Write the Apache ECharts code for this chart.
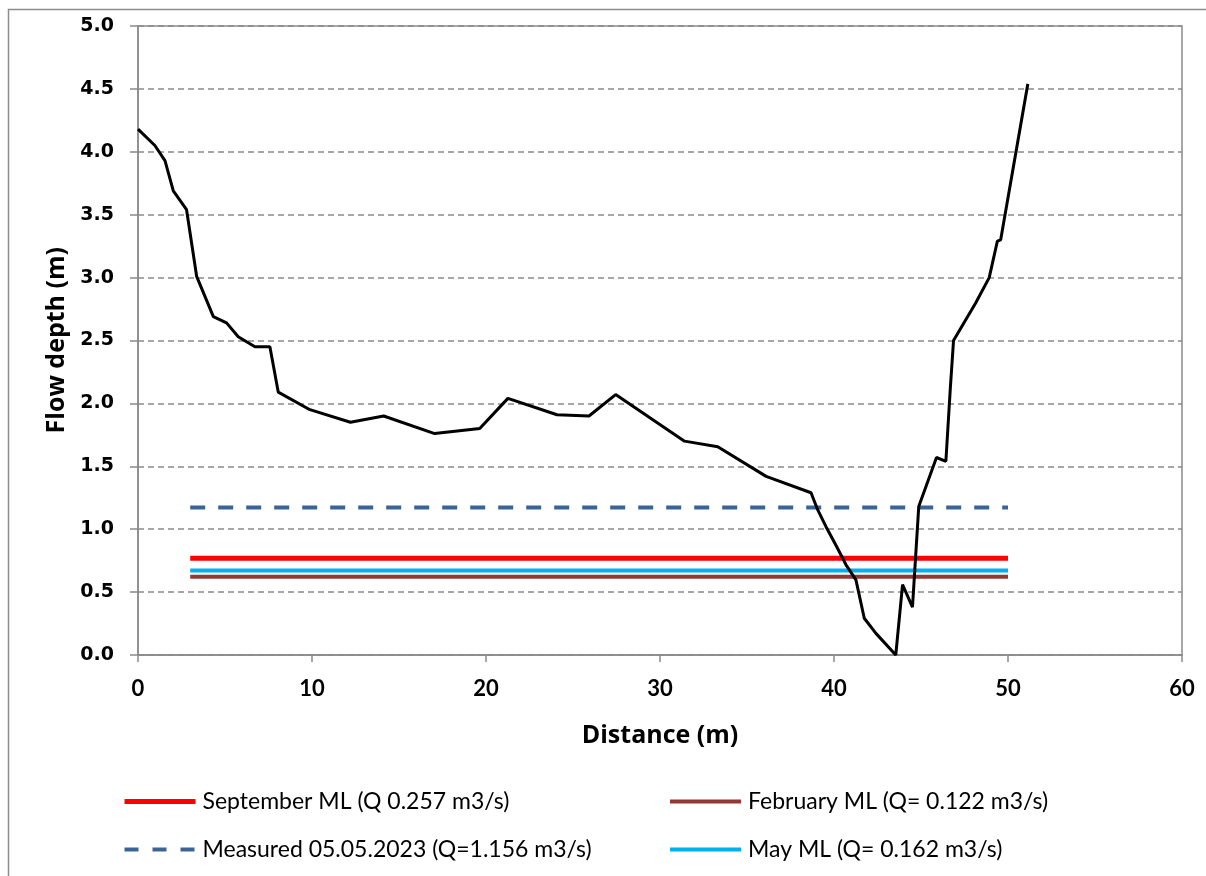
<!DOCTYPE html>
<html>
<head>
<meta charset="utf-8">
<script src="https://cdn.jsdelivr.net/npm/echarts@6/dist/echarts.min.js"></script>
<style>
  html, body { margin: 0; padding: 0; background: #fff; }
  #chart { width: 1206px; height: 876px; }
</style>
</head>
<body>
<div id="chart"></div>
<script>
// cross-section profile (distance m, flow depth m)
var profileX = [0, 0.97, 1.55, 2.03, 2.79, 3.37, 4.33, 5.09, 5.76, 6.72, 7.58, 8.06, 9.88, 12.21, 14.12, 17.05, 19.64, 21.26, 24.08, 25.92, 27.45, 31.41, 33.32, 36.1, 38.68, 39.06, 39.54, 40.15, 40.69, 41.26, 41.74, 42.41, 43.55, 43.94, 44.51, 44.87, 45.89, 46.43, 46.68, 46.87, 48.15, 48.92, 49.39, 49.58, 51.14];
var profileY = [4.18, 4.05, 3.93, 3.69, 3.54, 3.01, 2.69, 2.64, 2.53, 2.45, 2.45, 2.09, 1.95, 1.85, 1.90, 1.76, 1.80, 2.04, 1.91, 1.90, 2.07, 1.70, 1.655, 1.42, 1.29, 1.155, 1.02, 0.862, 0.717, 0.597, 0.292, 0.172, 0.0, 0.56, 0.38, 1.18, 1.57, 1.54, 2.11, 2.50, 2.80, 3.0, 3.29, 3.30, 4.54];

// water levels, drawn from x = 3 to x = 50
var levelX = [3, 50];
var septemberML = 0.77;
var februaryML = 0.622;
var measuredML = 1.172;
var mayML = 0.672;

var names = [
  'September ML (Q 0.257 m3/s)',
  'February ML (Q= 0.122 m3/s)',
  'Measured 05.05.2023 (Q=1.156 m3/s)',
  'May ML (Q= 0.162 m3/s)'
];

function pairs(xs, ys) {
  return xs.map(function (x, i) { return [x, ys[i]]; });
}
function level(v) {
  return levelX.map(function (x) { return [x, v]; });
}

var gray = '#8a8a8a';
var legendBase = {
  orient: 'vertical', top: 785,
  itemWidth: 71, itemHeight: 22, itemGap: 25,
  itemStyle: { opacity: 0 },
  textStyle: { fontFamily: 'Lato', fontSize: 23, color: '#000', padding: [0, 0, 0, 2] }
};

var option = {
  animation: false,
  backgroundColor: '#fff',
  graphic: [{
    type: 'rect',
    shape: { x: 8.5, y: 9.5, width: 1210, height: 880 },
    style: { fill: 'none', stroke: '#8c8c8c', lineWidth: 1.5 },
    silent: true
  }, {
    // y axis title, placed by its bounding box
    type: 'text',
    left: 44, top: 247, rotation: Math.PI / 2,
    style: {
      text: 'Flow depth (m)',
      fontFamily: 'Open Sans', fontWeight: 'bold', fontSize: 25, fill: '#000'
    },
    silent: true
  }],
  grid: {
    left: 138, right: 24, top: 26, bottom: 221,
    show: true, borderColor: gray, borderWidth: 1.5
  },
  legend: [
    Object.assign({}, legendBase, {
      left: 117,
      data: [
        { name: names[0], lineStyle: { width: 5 } },
        { name: names[2], lineStyle: { width: 4, type: [14, 14] } }
      ]
    }),
    Object.assign({}, legendBase, {
      left: 663,
      data: [
        { name: names[1], lineStyle: { width: 4 } },
        { name: names[3], lineStyle: { width: 4 } }
      ]
    })
  ],
  xAxis: {
    type: 'value', min: 0, max: 60, interval: 10,
    name: 'Distance (m)', nameLocation: 'middle', nameGap: 68,
    nameTextStyle: { fontFamily: 'Open Sans', fontWeight: 'bold', fontSize: 25, color: '#000' },
    axisLine: { lineStyle: { color: gray, width: 1.5 } },
    axisTick: { inside: false, length: 7, lineStyle: { color: gray, width: 1.5 } },
    axisLabel: { margin: 23, fontFamily: 'Lato', fontWeight: 'bold', fontSize: 22, color: '#000' },
    splitLine: { show: false }
  },
  yAxis: {
    type: 'value', min: 0, max: 5, interval: 0.5,
    axisLine: { show: true, lineStyle: { color: gray, width: 1.5 } },
    axisTick: { show: true, length: 8, lineStyle: { color: gray, width: 1.5 } },
    axisLabel: {
      margin: 24, fontFamily: 'DejaVu Sans', fontWeight: 'bold', fontSize: 19, color: '#000',
      formatter: function (v) { return v.toFixed(1); }
    },
    splitLine: { show: true, lineStyle: { color: gray, width: 1.5, type: [6, 4] } }
  },
  series: [{
    name: 'profile', type: 'line', showSymbol: false, symbol: 'none',
    data: pairs(profileX, profileY),
    lineStyle: { color: '#000', width: 3 }, z: 5
  }, {
    name: names[0], type: 'line', symbol: 'none',
    data: level(septemberML),
    itemStyle: { color: '#ff0000' },
    lineStyle: { color: '#ff0000', width: 5 }
  }, {
    name: names[1], type: 'line', symbol: 'none',
    data: level(februaryML),
    itemStyle: { color: '#953735' },
    lineStyle: { color: '#953735', width: 4 }
  }, {
    name: names[2], type: 'line', symbol: 'none',
    data: level(measuredML),
    itemStyle: { color: '#3a6496' },
    lineStyle: { color: '#3a6496', width: 4, type: [15, 13] }
  }, {
    name: names[3], type: 'line', symbol: 'none',
    data: level(mayML),
    itemStyle: { color: '#00b0f0' },
    lineStyle: { color: '#00b0f0', width: 4 }
  }]
};

var myChart = echarts.init(document.getElementById('chart'));
myChart.setOption(option);
</script>
</body>
</html>
